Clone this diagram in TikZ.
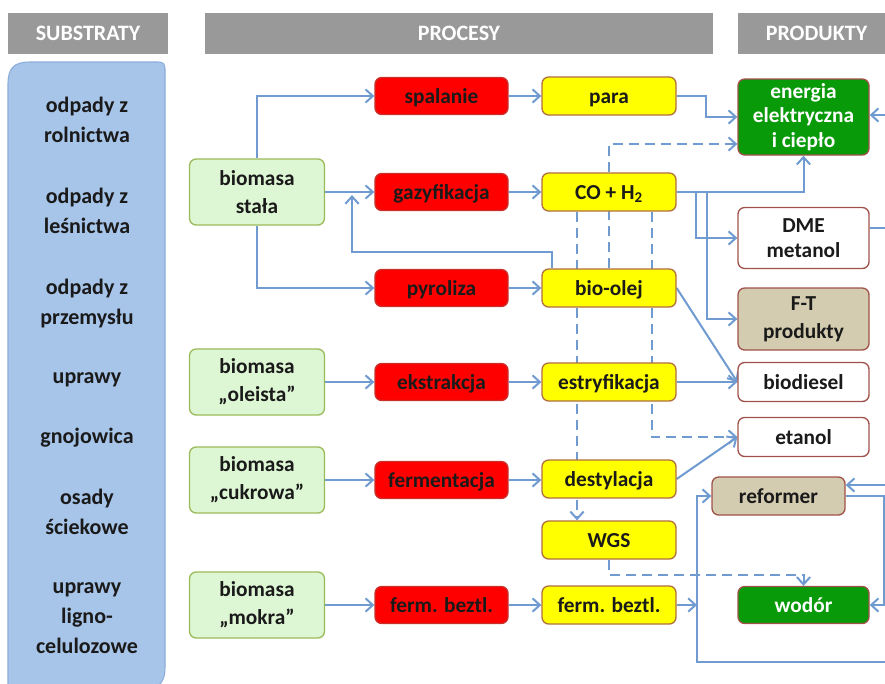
\documentclass[tikz,border=0pt]{standalone}
\usepackage{fontspec}
\setmainfont{Carlito}
\usetikzlibrary{arrows.meta,backgrounds}
\newdimen\pxl \pxl=0.75pt
\definecolor{lineb}{HTML}{6F9BD0}
\definecolor{hdrgray}{HTML}{999999}
\definecolor{panelf}{HTML}{A7C4E9}
\definecolor{paneld}{HTML}{8AAEDC}
\definecolor{lgreen}{HTML}{DDF6D4}
\definecolor{greenb}{HTML}{9BBB59}
\definecolor{redf}{HTML}{FF0000}
\definecolor{redb}{HTML}{C8302C}
\definecolor{yelf}{HTML}{FFFF00}
\definecolor{yelb}{HTML}{B0703F}
\definecolor{prodb}{HTML}{A0524A}
\definecolor{dgreen}{HTML}{089A08}
\definecolor{tanf}{HTML}{D4CCB0}
\definecolor{textc}{HTML}{1A1A1A}
\begin{document}
\begin{tikzpicture}[x=0.75pt,y=-0.75pt,
  hdr/.style={fill=hdrgray, minimum height=41\pxl, inner sep=0pt, text=white,
    font=\bfseries\fontsize{16.5}{18}\selectfont},
  ptext/.style={align=center, text=textc, font=\bfseries\fontsize{16.5}{22.5}\selectfont},
  basebox/.style={rounded corners=5pt, draw, line width=1pt, inner sep=0pt,
    text=textc, font=\bfseries\fontsize{16}{21}\selectfont},
  box/.style={basebox, align=center},
  grnbox/.style={box, fill=lgreen, draw=greenb, minimum width=135\pxl, minimum height=66\pxl},
  redbox/.style={basebox, fill=redf, draw=redb, minimum width=133\pxl, minimum height=37\pxl,
    text height=12.5pt, text depth=2pt},
  yelbox/.style={basebox, fill=yelf, draw=yelb, minimum width=134\pxl, minimum height=38\pxl,
    text height=12.5pt, text depth=2pt},
  prodbox/.style={box, draw=prodb, fill=white, minimum width=131\pxl, font=\bfseries\fontsize{16}{19}\selectfont},
  conn/.style={line width=1.5pt, draw=lineb},
  arr/.style={conn, -{Straight Barb[length=5.5pt,width=10pt]}},
  dsh/.style={dash pattern=on 7.5pt off 4.5pt}
]
\useasboundingbox (0,0) rectangle (885,683);

% headers
\node[hdr, minimum width=160\pxl] (hs) at (88,33) {SUBSTRATY};
\node[hdr, minimum width=508\pxl] (hp) at (459,33) {PROCESY};
\node[hdr, minimum width=157\pxl] (hk) at (816.5,33) {PRODUKTY};

% substrates panel
\path[fill=panelf, draw=paneld, line width=0.8pt]
  (8,700) -- (8,84) .. controls (8,68) and (14,62) .. (30,62) -- (158,62)
  .. controls (163,62) and (165,64) .. (165,69) -- (165,668)
  .. controls (165,680) and (160,688) .. (148,690) -- (8,690) -- cycle;
\node[ptext] (t1) at (87,120) {odpady z\\rolnictwa};
\node[ptext] (t2) at (87,211) {odpady z\\leśnictwa};
\node[ptext] (t3) at (87,304) {odpady z\\przemysłu};
\node[ptext] (t4) at (87,380) {uprawy};
\node[ptext] (t5) at (87,438) {gnojowica};
\node[ptext] (t6) at (87,512) {osady\\ściekowe};
\node[ptext] (t7) at (87,618) {uprawy\\ligno-\\celulozowe};

% biomass
\node[grnbox] (bs) at (257,192) {biomasa\\stała};
\node[grnbox] (bo) at (257,382) {biomasa\\„oleista”};
\node[grnbox] (bc) at (257,480) {biomasa\\„cukrowa”};
\node[grnbox] (bm) at (257,605) {biomasa\\„mokra”};

% processes (red)
\node[redbox] (spal) at (441.5,96) {spalanie};
\node[redbox] (gaz) at (441.5,192) {gazyfikacja};
\node[redbox] (pyr) at (441.5,288) {pyroliza};
\node[redbox] (ekst) at (441.5,382) {ekstrakcja};
\node[redbox] (ferm) at (441.5,480) {fermentacja};
\node[redbox] (fb1) at (441.5,605) {ferm. beztl.};

% intermediates (yellow)
\node[yelbox] (para) at (609,96) {para};
\node[yelbox] (co) at (609,192) {CO + H\textsubscript{2}};
\node[yelbox] (olej) at (609,288) {bio-olej};
\node[yelbox] (estr) at (609,382) {estryfikacja};
\node[yelbox] (dest) at (609,479) {destylacja};
\node[yelbox] (wgs) at (609,540) {WGS};
\node[yelbox] (fb2) at (609,605) {ferm. beztl.};

% products
\node[prodbox, fill=dgreen, text=white, minimum height=76\pxl, font=\bfseries\fontsize{16}{18.5}\selectfont] (en) at (803.5,117) {energia\\elektryczna\\i ciepło};
\node[prodbox, minimum height=61\pxl] (dme) at (803.5,238) {DME\\metanol};
\node[prodbox, fill=tanf, minimum height=62\pxl, font=\bfseries\fontsize{16}{21}\selectfont] (ft) at (803.5,319) {F-T\\produkty};
\node[prodbox, minimum height=39\pxl] (bd) at (803.5,382) {biodiesel};
\node[prodbox, minimum height=39\pxl] (et) at (803.5,437) {etanol};
\node[prodbox, fill=tanf, minimum width=133\pxl, minimum height=38\pxl] (ref) at (778.5,496) {reformer};
\node[prodbox, fill=dgreen, text=white, minimum height=37\pxl] (wod) at (803.5,605) {wodór};

% free ends
\coordinate (fbk) at (352,252);
\coordinate (fbtip) at (352,195);
\coordinate (lb) at (697,662);
\coordinate (rb) at (892,662);
\coordinate (ren) at (892,115);
\coordinate (rdme) at (892,228);
\coordinate (rref) at (892,485);

\begin{scope}[on background layer]
  \fill[white] (0,0) rectangle (885,683);
  \draw[arr] (bs.north) |- (spal.west);
  \draw[arr] (bs.east) -- (gaz.west);
  \draw[arr] (bs.south) |- (pyr.west);
  \draw[arr] ([xshift=8.25pt]olej.north west) |- (fbk) -- (fbtip);
  \draw[arr] (bo.east) -- (ekst.west);
  \draw[arr] (bc.east) -- (ferm.west);
  \draw[arr] (bm.east) -- (fb1.west);

  \draw[arr] (spal.east) -- (para.west);
  \draw[arr] (gaz.east) -- (co.west);
  \draw[arr] (pyr.east) -- (olej.west);
  \draw[arr] (ekst.east) -- (estr.west);
  \draw[arr] (ferm.east) -- (dest.west |- ferm.east);
  \draw[arr] (fb1.east) -- (fb2.west);

  \draw[arr] (para.east) -- ++(29,0) |- (en.west);
  \draw[arr] (co.east) -| (en.south);
  \draw[arr] (co.east) -- ++(19,0) |- (dme.west);
  \draw[arr] (co.east) -- ++(30,0) |- (ft.west);
  \draw[arr] (olej.east) -- (bd.west);
  \draw[arr] (estr.east) -- (bd.west);
  \draw[arr] (dest.east) -- (et.west);
  \draw[arr] (fb2.east) -- (lb |- fb2.east);
  \draw[arr] (rb) -- (lb) |- (ref.west);
  \draw[arr] (ren) -- (en.east |- ren);
  \draw[conn] (dme.east |- rdme) -- (rdme);
  \draw[arr] (rref) -- (ref.east |- rref);
  \draw[arr] (ref.east) -- ++(38,0) |- (wod.east);

  \draw[arr, dsh] (olej.north) |- ([yshift=-20.25pt]en.west);
  \draw[arr, dsh] ([xshift=-24pt]co.south) -- ([xshift=-24pt]wgs.north);
  \draw[arr, dsh] ([xshift=32pt]co.south) |- (et.west);
  \draw[arr, dsh] (wgs.south) -- ++(0,15) -| (wod.north);
\end{scope}
\end{tikzpicture}
\end{document}
